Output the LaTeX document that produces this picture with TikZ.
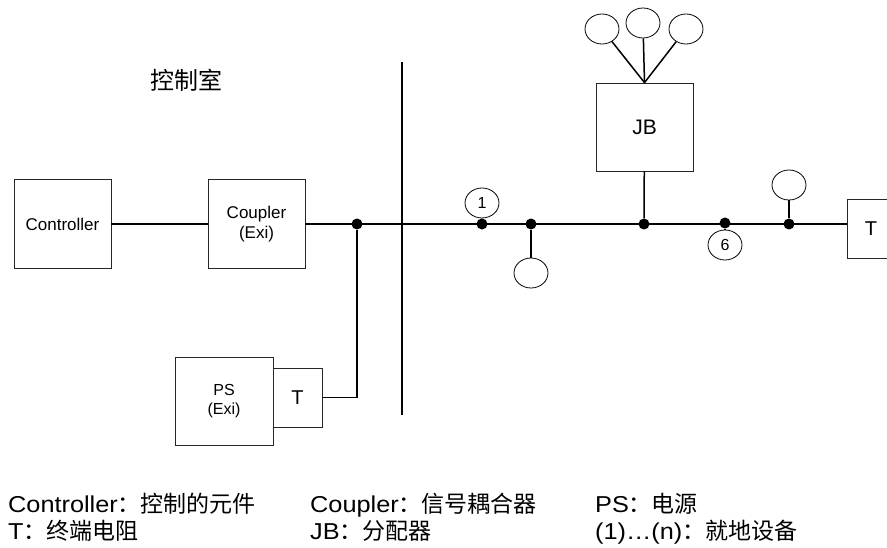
\documentclass[tikz,border=0pt]{standalone}
\usepackage{fontspec}
\setmainfont{Liberation Sans}
\newfontfamily\cjk{Noto Sans CJK SC}
\newfontfamily\legendfont[FakeStretch=1.1]{Liberation Sans}
\usetikzlibrary{shapes.geometric}

\begin{document}
\begin{tikzpicture}[x=1pt, y=-1pt,
	unit/.style={rectangle, draw=black!85, line width=0.8pt, minimum width=97pt, minimum height=89pt, align=center, inner sep=0pt, font=\fontsize{16}{19}\selectfont},
	term/.style={rectangle, draw=black!85, line width=0.8pt, minimum width=49pt, minimum height=59pt, inner sep=0pt, font=\fontsize{20}{24}\selectfont},
	device/.style={ellipse, draw=black, line width=0.8pt, minimum width=34pt, minimum height=30pt, inner sep=0pt, font=\fontsize{16}{18}\selectfont},
	tap/.style={circle, fill=black, minimum size=11pt, inner sep=0pt},
	wire/.style={line width=1.5pt},
	legend/.style={anchor=base west, inner sep=0pt, font=\legendfont\fontsize{23}{27}\selectfont}]
	
	\useasboundingbox (0,0) rectangle (887,548);
	
	% control room side
	\node (room) [font=\cjk\fontsize{24}{28}\selectfont] at (186,80) {控制室};
	\node (ctrl) [unit, font=\fontsize{17}{20}\selectfont] at (62.5,224) {Controller};
	\node (coupler) [unit, font=\fontsize{17}{20}\selectfont] at (256.5,224) {Coupler\\(Exi)};
	\node (ps) [unit, minimum width=98pt, minimum height=88pt] at (224,401) {PS\\(Exi)};
	\node (psterm) [term] at (297.5,397.5) {T};
	\node (tap0) [tap] at (357,224) {};
	
	% wall
	\coordinate (wallTop) at (402,62);
	\coordinate (wallBot) at (402,415);
	\draw [line width=1.6pt] (wallTop) -- (wallBot);
	
	% field side
	\node (termR) [term, minimum width=48pt] at (871,229) {T};
	\node (jb) [unit, font=\fontsize{21}{24}\selectfont, minimum height=88pt] at (644.5,127) {JB};
	\node (tapA) [tap] at (482,224) {};
	\node (tapB) [tap] at (531,224) {};
	\node (tapC) [tap] at (644,224) {};
	\node (tapD) [tap] at (725,223) {};
	\node (tapE) [tap] at (789,224) {};
	\node (dev1) [device] at (482,203) {1};
	\node (devB) [device] at (531,273) {};
	\node (dev6) [device] at (725,245) {6};
	\node (devE) [device] at (789,185) {};
	\node (jb1) [device] at (602,29) {};
	\node (jb2) [device] at (643,23) {};
	\node (jb3) [device] at (686,29) {};
	
	\draw [wire] (ctrl) -- (coupler);
	\draw [wire] (coupler.east) -- (coupler.east -| termR.west);
	\draw [wire] (psterm.east) -| (tap0);
	\draw [wire] (tapB) -- (devB);
	\draw [wire] (tapC) -- (jb);
	\draw [wire] (tapD) -- (dev6);
	\draw [wire] (tapE) -- (devE);
	\draw [wire] (jb.north) -- (jb1);
	\draw [wire] (jb.north) -- (jb2);
	\draw [wire] (jb.north) -- (jb3);
	
	% legend
	\node (lgctrl) [legend] at (8,512) {Controller{\cjk ：控制的元件}};
	\node (lgterm) [legend] at (8,539) {T{\cjk ：终端电阻}};
	\node (lgcoup) [legend] at (310,512) {Coupler{\cjk ：信号耦合器}};
	\node (lgjb) [legend] at (310,539) {JB{\cjk ：分配器}};
	\node (lgps) [legend] at (595,512) {PS{\cjk ：电源}};
	\node (lgdev) [legend] at (595,539) {(1)…(n){\cjk ：就地设备}};
\end{tikzpicture}
\end{document}
